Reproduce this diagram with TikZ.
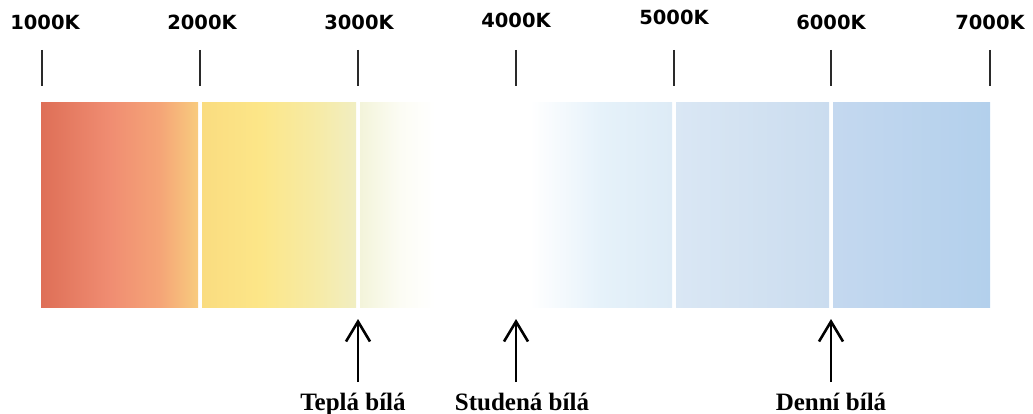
\documentclass[tikz,border=0pt]{standalone}
\usepackage{fontspec}
\usetikzlibrary{arrows.meta}
\newfontfamily\klabelfont{DejaVu Sans}
\newfontfamily\wlabelfont{Liberation Serif}
\definecolor{cA}{HTML}{DE6F57}
\definecolor{cB}{HTML}{F08D72}
\definecolor{cC}{HTML}{F5A577}
\definecolor{cD}{HTML}{F8CB7E}
\definecolor{cE}{HTML}{FADC80}
\definecolor{cF}{HTML}{FCE688}
\definecolor{cG}{HTML}{F6EBA8}
\definecolor{cH}{HTML}{F1EEC2}
\definecolor{cI}{HTML}{F3F4DA}
\definecolor{cJ}{HTML}{FCFCF4}
\definecolor{cK}{HTML}{E6F2FA}
\definecolor{cL}{HTML}{DDEBF6}
\definecolor{cM}{HTML}{DAE7F4}
\definecolor{cN}{HTML}{CADCEF}
\definecolor{cO}{HTML}{C4D8EF}
\definecolor{cP}{HTML}{B3D0EC}
\definecolor{tickgray}{HTML}{2A2A2A}
\tikzset{
  klabel/.style={font=\klabelfont\bfseries\fontsize{19.5}{22}\selectfont, inner sep=0pt, text=black},
  wlabel/.style={font=\wlabelfont\bfseries\fontsize{25}{28}\selectfont, inner sep=0pt, anchor=base, text=black},
  tickline/.style={draw=tickgray, line width=1.8pt},
  uparrow/.style={draw=black, line width=2.6pt, -{Straight Barb[length=20pt,width=24pt,line width=2.6pt]}},
}
\begin{document}
\begin{tikzpicture}[x=1pt,y=-1pt]
\useasboundingbox (0,0) rectangle (1033,414);
% bar segments
\shade[left color=cA, right color=cB] (41,103) rectangle (110.5,307);
\shade[left color=cB, right color=cC] (110,103) rectangle (160.5,307);
\shade[left color=cC, right color=cD] (160,103) rectangle (198,307);
\shade[left color=cE, right color=cF] (202,103) rectangle (260.5,307);
\shade[left color=cF, right color=cG] (260,103) rectangle (320.5,307);
\shade[left color=cG, right color=cH] (320,103) rectangle (356,307);
\shade[left color=cI, right color=cJ] (360,103) rectangle (400.5,307);
\shade[left color=cJ, right color=white] (400,103) rectangle (435,307);
\shade[left color=white, right color=cK] (530,103) rectangle (600.5,307);
\shade[left color=cK, right color=cL] (600,103) rectangle (672,307);
\shade[left color=cM, right color=cN] (676,103) rectangle (829,307);
\shade[left color=cO, right color=cP] (833,103) rectangle (990,307);
% labels and ticks
\foreach \name/\x/\y in {1000/45/22, 2000/202/22, 3000/359/22, 4000/516/20, 5000/674/17, 6000/831/22, 7000/990/22}{
  \node[klabel] (k\name) at (\x,\y) {\name K};
}
\foreach \name/\x in {1000/42, 2000/200, 3000/358, 4000/516, 5000/674, 6000/831, 7000/990}{
  \coordinate (t\name a) at (\x,50);
  \coordinate (t\name b) at (\x,86);
  \draw[tickline] (t\name a) -- (t\name b);
}
% bottom labels and arrows
\node[wlabel] (warm) at (353,410) {Teplá bílá};
\node[wlabel] (cool) at (522,410) {Studená bílá};
\node[wlabel] (day) at (831,410) {Denní bílá};
\coordinate (warmtail) at (358,382);
\coordinate (cooltail) at (516,382);
\coordinate (daytail) at (831,382);
\coordinate (warmtip) at (358,319);
\coordinate (cooltip) at (516,319);
\coordinate (daytip) at (831,319);
\draw[uparrow] (warmtail) -- (warmtip);
\draw[uparrow] (cooltail) -- (cooltip);
\draw[uparrow] (daytail) -- (daytip);
\end{tikzpicture}
\end{document}
